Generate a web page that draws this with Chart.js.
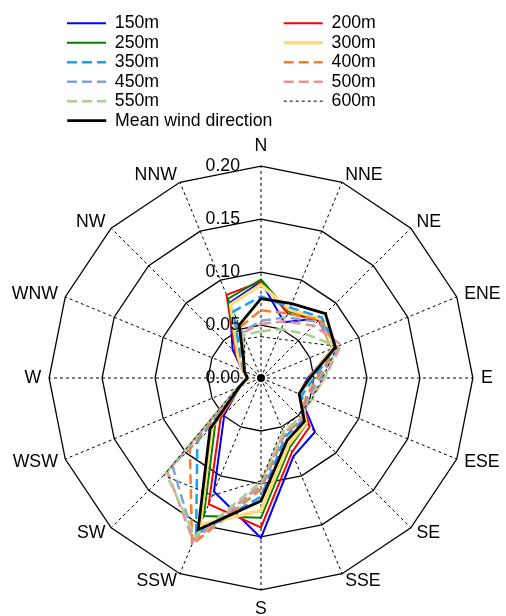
<!DOCTYPE html>
<html>
<head>
<meta charset="utf-8">
<title>Frecuencia de dirección del viento</title>
<script src="https://cdn.jsdelivr.net/npm/chart.js@4.4.1/dist/chart.umd.min.js"></script>
<style>
  html, body { margin: 0; padding: 0; background: #fff; }
  canvas { display: block; }
</style>
</head>
<body>
<canvas id="rosaChart" width="506" height="616"></canvas>
<script>
// Datos (frecuencia por dirección, 16 sectores)
const direcciones = ['N', 'NNE', 'NE', 'ENE', 'E', 'ESE', 'SE', 'SSE', 'S', 'SSW', 'SW', 'WSW', 'W', 'WNW', 'NW', 'NNW'];
const marcasRadio = [0, 0.05, 0.10, 0.15, 0.20];

const h150 = [0.091, 0.057, 0.080, 0.075, 0.044, 0.039, 0.072, 0.080, 0.151, 0.116, 0.049, 0.022, 0.013, 0.019, 0.038, 0.077];
const h200 = [0.091, 0.066, 0.077, 0.073, 0.045, 0.039, 0.065, 0.076, 0.141, 0.129, 0.054, 0.021, 0.012, 0.019, 0.034, 0.085];
const h250 = [0.093, 0.068, 0.078, 0.073, 0.046, 0.039, 0.061, 0.071, 0.132, 0.141, 0.061, 0.022, 0.012, 0.019, 0.032, 0.081];
const h300 = [0.088, 0.070, 0.079, 0.074, 0.046, 0.040, 0.060, 0.068, 0.125, 0.150, 0.066, 0.022, 0.012, 0.019, 0.031, 0.075];
const h350 = [0.077, 0.072, 0.081, 0.076, 0.050, 0.042, 0.056, 0.060, 0.112, 0.160, 0.085, 0.023, 0.013, 0.018, 0.027, 0.068];
const h400 = [0.064, 0.066, 0.078, 0.078, 0.053, 0.046, 0.055, 0.058, 0.105, 0.170, 0.095, 0.023, 0.012, 0.018, 0.025, 0.052];
const h450 = [0.054, 0.062, 0.075, 0.080, 0.056, 0.048, 0.054, 0.057, 0.102, 0.165, 0.118, 0.024, 0.012, 0.018, 0.024, 0.047];
const h500 = [0.051, 0.058, 0.070, 0.082, 0.060, 0.050, 0.054, 0.056, 0.100, 0.167, 0.125, 0.024, 0.012, 0.017, 0.023, 0.046];
const h550 = [0.044, 0.050, 0.059, 0.078, 0.060, 0.052, 0.053, 0.055, 0.098, 0.162, 0.127, 0.024, 0.012, 0.017, 0.022, 0.044];
const h600 = [0.039, 0.040, 0.049, 0.078, 0.058, 0.052, 0.050, 0.052, 0.097, 0.120, 0.130, 0.024, 0.012, 0.017, 0.022, 0.040];
const media = [0.075, 0.076, 0.086, 0.076, 0.046, 0.039, 0.058, 0.064, 0.116, 0.155, 0.068, 0.022, 0.013, 0.017, 0.023, 0.054];

const FUENTE = '"Liberation Sans", Arial, sans-serif';
const TAM = 17.7;

// medidor para rellenar los textos de la leyenda (dos columnas)
const medidor = document.createElement('canvas').getContext('2d');
medidor.font = TAM + 'px ' + FUENTE;
function rellenar(texto, ancho) {
    const espacio = medidor.measureText(' ').width;
    const n = Math.round((ancho - medidor.measureText(texto).width) / espacio);
    return texto + ' '.repeat(Math.max(n, 0));
}

function serie(label, data, color, ancho, trazo) {
    return {
        label: label,
        data: data,
        borderColor: color,
        backgroundColor: color,
        borderWidth: ancho,
        borderDash: trazo || [],
        fill: false,
        tension: 0,
        pointRadius: 0,
        pointHoverRadius: 0,
        pointHitRadius: 0
    };
}

const series = [
    serie('150m', h150, '#0000FF', 2),
    serie('200m', h200, '#FF0000', 2),
    serie('250m', h250, '#008000', 2),
    serie('300m', h300, '#FFDC78', 3.5),
    serie('350m', h350, '#14A0FF', 2.5, [10, 5]),
    serie('400m', h400, '#F6812C', 2.5, [10, 5]),
    serie('450m', h450, '#7FA4D4', 2.5, [10, 5]),
    serie('500m', h500, '#E8939A', 2.5, [10, 5]),
    serie('550m', h550, '#A8CF8E', 2.5, [10, 5]),
    serie('600m', h600, '#000000', 1, [3, 3]),
    serie('Mean wind direction', media, '#000000', 2.8)
];
// la última serie queda encima
series.forEach((s, i) => { s.order = series.length - i; });

// etiquetas del eje radial y punto central, encima de las series
const extrasRosa = {
    id: 'extrasRosa',
    afterDatasetsDraw(chart) {
        const r = chart.scales.r;
        const ctx = chart.ctx;
        ctx.save();
        ctx.fillStyle = '#000';
        ctx.font = TAM + 'px ' + FUENTE;
        ctx.textAlign = 'right';
        ctx.textBaseline = 'middle';
        marcasRadio.forEach(v => {
            const d = r.getDistanceFromCenterForValue(v);
            ctx.fillText(v.toFixed(2), r.xCenter - 21, r.yCenter - d);
        });
        ctx.beginPath();
        ctx.arc(r.xCenter, r.yCenter, 4, 0, Math.PI * 2);
        ctx.fill();
        ctx.restore();
    }
};

new Chart(document.getElementById('rosaChart'), {
    type: 'radar',
    data: { labels: direcciones, datasets: series },
    plugins: [extrasRosa],
    options: {
        responsive: false,
        animation: false,
        layout: { padding: { left: 6.7, right: -3.8, top: 12.5, bottom: -0.5 } },
        plugins: {
            tooltip: { enabled: false },
            legend: {
                position: 'top',
                align: 'center',
                labels: {
                    font: { family: FUENTE, size: TAM },
                    color: '#000',
                    padding: 1.8,
                    usePointStyle: true,
                    pointStyle: 'line',
                    pointStyleWidth: 39,
                    generateLabels(chart) {
                        const ds = chart.data.datasets;
                        return ds.map((d, i) => {
                            let texto = d.label;
                            if (i === ds.length - 1) texto = rellenar(texto, 332.6);
                            else if (i % 2 === 0) texto = rellenar(texto, 165.3);
                            else texto = rellenar(texto, 117.6);
                            return {
                                text: texto,
                                fillStyle: 'rgba(0,0,0,0)',
                                strokeStyle: d.borderColor,
                                lineWidth: d.borderWidth,
                                lineDash: d.borderDash,
                                pointStyle: 'line',
                                hidden: false,
                                datasetIndex: i
                            };
                        });
                    }
                }
            }
        },
        scales: {
            r: {
                min: 0,
                max: 0.2,
                ticks: { display: false, stepSize: 0.05 },
                grid: { circular: false, color: '#000', lineWidth: 1.3 },
                angleLines: { display: true, color: '#000', lineWidth: 1, borderDash: [3, 3] },
                pointLabels: {
                    color: '#000',
                    font: { family: FUENTE, size: TAM, lineHeight: '0px' },
                    padding: c => (c.index === 0 ? 20 : c.index === 8 ? 19 : 8)
                }
            }
        }
    }
});
</script>
</body>
</html>
